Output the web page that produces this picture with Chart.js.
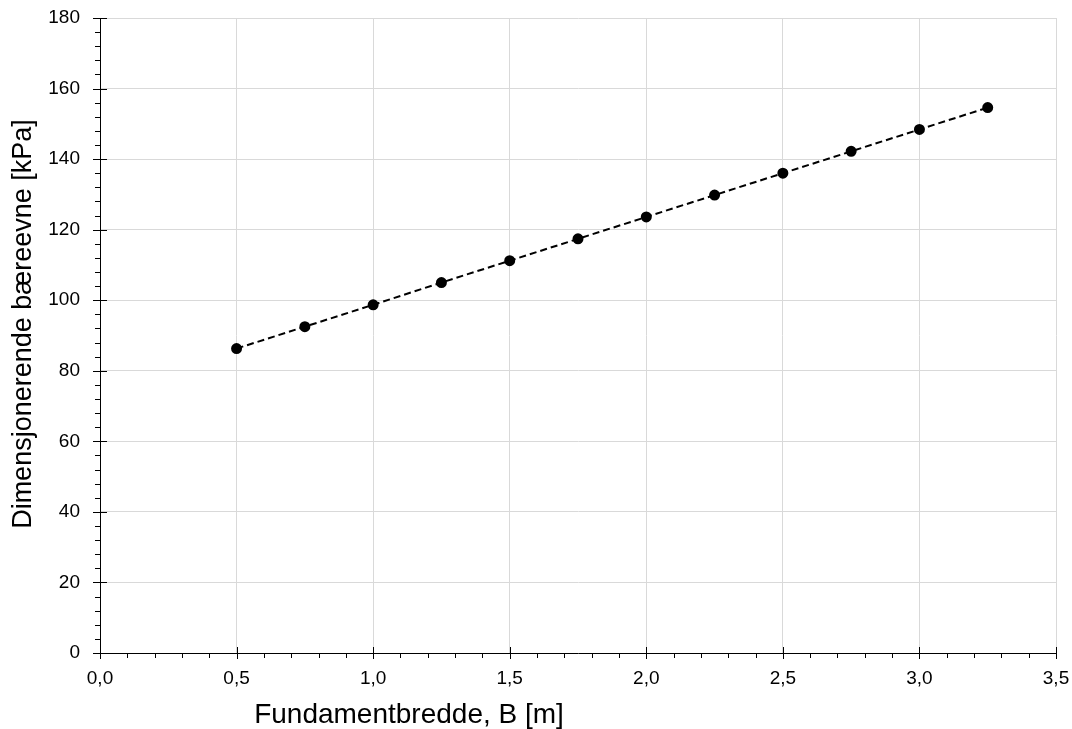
<!DOCTYPE html>
<html>
<head>
<meta charset="utf-8">
<script src="https://cdn.jsdelivr.net/npm/chart.js@4"></script>
<style>
  html, body { margin: 0; padding: 0; background: #fff; }
  #wrap { width: 1072px; height: 729px; }
</style>
</head>
<body>
<div id="wrap"><canvas id="chart"></canvas></div>
<script>
// Data
const widths = [0.5, 0.75, 1.0, 1.25, 1.5, 1.75, 2.0, 2.25, 2.5, 2.75, 3.0, 3.25];
const capacity = [86.3, 92.5, 98.7, 105.0, 111.2, 117.4, 123.6, 129.8, 136.0, 142.2, 148.4, 154.6];
const xTitle = 'Fundamentbredde, B [m]';
const yTitle = 'Dimensjonerende bæreevne [kPa]';

const fontFamily = "'Liberation Sans', Arial, sans-serif";

// minor/major ticks and both axis titles, drawn on top of the scales
const axisExtras = {
    id: 'axisExtras',
    afterDraw(chart) {
        const ctx = chart.ctx;
        const x = chart.scales.x;
        const y = chart.scales.y;
        ctx.save();
        ctx.strokeStyle = '#000';
        ctx.lineWidth = 1;
        ctx.beginPath();
        // x ticks (minor every 0.1)
        for (let i = 0; i <= 35; i++) {
            const px = Math.round(x.getPixelForValue(i / 10)) + 0.5;
            const major = i % 5 === 0;
            ctx.moveTo(px, y.bottom - (major ? 6 : 0));
            ctx.lineTo(px, y.bottom + (major ? 6 : 5));
        }
        // y ticks (minor every 4)
        for (let i = 0; i <= 45; i++) {
            const py = Math.round(y.getPixelForValue(i * 4)) + 0.5;
            const major = i % 5 === 0;
            ctx.moveTo(x.left - (major ? 7 : 5), py);
            ctx.lineTo(x.left + (major ? 7 : 0), py);
        }
        ctx.stroke();

        ctx.fillStyle = '#000';
        ctx.textAlign = 'center';
        ctx.textBaseline = 'alphabetic';
        ctx.font = '28px ' + fontFamily;
        ctx.fillText(xTitle, 409, 723);

        ctx.font = '27px ' + fontFamily;
        ctx.translate(31, 324);
        ctx.rotate(-Math.PI / 2);
        ctx.fillText(yTitle, 0, 0);
        ctx.restore();
    }
};

const ctx = document.getElementById('chart').getContext('2d');
new Chart(ctx, {
    type: 'scatter',
    data: {
        datasets: [{
            data: widths.map((w, i) => ({ x: w, y: capacity[i] })),
            showLine: true,
            borderColor: '#000',
            borderWidth: 2,
            borderDash: [7, 4],
            backgroundColor: '#000',
            pointRadius: 4.5,
            pointHoverRadius: 4.5
        }]
    },
    options: {
        responsive: true,
        maintainAspectRatio: false,
        animation: false,
        layout: { padding: { top: 18, right: 16, left: 0, bottom: 0 } },
        plugins: {
            legend: { display: false },
            tooltip: { enabled: false }
        },
        scales: {
            x: {
                type: 'linear',
                min: 0,
                max: 3.5,
                afterFit(scale) {
                    scale.height = 76;
                    scale.paddingLeft = 0;
                    scale.paddingRight = 0;
                },
                grid: { color: '#d9d9d9', drawTicks: false },
                border: { color: '#000', width: 1 },
                ticks: {
                    stepSize: 0.5,
                    padding: 14,
                    maxRotation: 0,
                    color: '#000',
                    font: { family: fontFamily, size: 19 },
                    callback: v => v.toFixed(1).replace('.', ',')
                }
            },
            y: {
                min: 0,
                max: 180,
                afterFit(scale) {
                    scale.width = 100;
                    scale.paddingTop = 0;
                    scale.paddingBottom = 0;
                },
                grid: { color: '#d9d9d9', drawTicks: false },
                border: { color: '#000', width: 1 },
                ticks: {
                    stepSize: 20,
                    padding: 20,
                    color: '#000',
                    font: { family: fontFamily, size: 19 }
                }
            }
        }
    },
    plugins: [axisExtras]
});
</script>
</body>
</html>
